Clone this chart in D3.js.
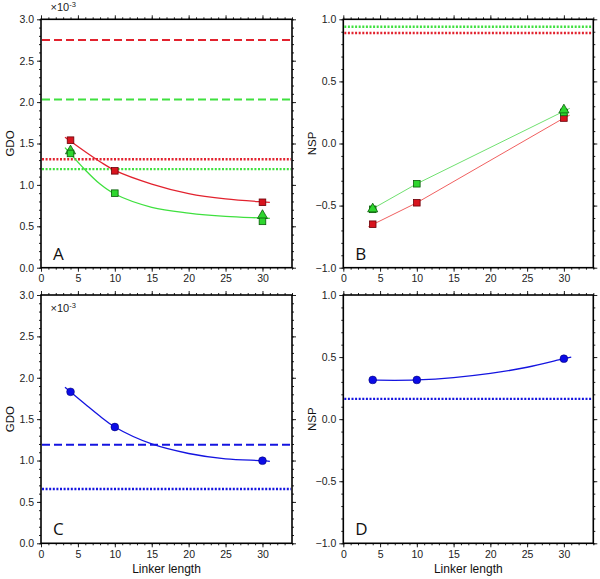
<!DOCTYPE html>
<html><head><meta charset="utf-8">
<script src="https://cdn.jsdelivr.net/npm/d3@7"></script>
<style>body{margin:0;background:#fff}svg{display:block}</style>
</head><body>
<svg id="c" width="600" height="579"></svg>
<script>
// ---------------- data ----------------
const xTicks = [0,5,10,15,20,25,30];
const gdoTicks = [0,0.5,1.0,1.5,2.0,2.5,3.0];
const nspTicks = [-1.0,-0.5,0.0,0.5,1.0];
const linker = [4,10,30];
const triX = [4,30];

// Panel A (GDO x10^-3)
const aRedSq = [1.54,1.17,0.79];
const aGreenSq = [1.38,0.90,0.56];
const aGreenTri = [1.41,0.63];
const aRedDashed = 2.75, aGreenDashed = 2.03, aRedDotted = 1.31, aGreenDotted = 1.19;
const aFitX = [3.25,6,8,10,15,20,25,30,31];
const aRedFit = [1.575,1.40,1.28,1.175,1.01,0.895,0.83,0.795,0.79];
const aGreenFit = [1.45,1.18,1.01,0.89,0.73,0.66,0.62,0.60,0.595];

// Panel B (NSP)
const bRedSq = [-0.65,-0.477,0.205];
const bGreenSq = [-0.53,-0.324,0.25];
const bGreenTri = [-0.527,0.27];
const bGreenDotted = 0.94, bRedDotted = 0.89;
const bFitX = [3.4,10,30,30.8];
const bRedFit = [-0.67,-0.477,0.205,0.228];
const bGreenFit = [-0.545,-0.324,0.26,0.283];

// Panel C (GDO x10^-3)
const cBlue = [1.83,1.405,0.998];
const cBlueDashed = 1.19, cBlueDotted = 0.656;
const cFitX = [3.25,6,8,10,15,20,25,30,31];
const cBlueFit = [1.885,1.68,1.535,1.405,1.20,1.085,1.02,0.998,0.99];

// Panel D (NSP)
const dBlue = [0.316,0.316,0.487];
const dBlueDotted = 0.163;
const dFitX = [3.5,7,10,15,20,25,30,31];
const dBlueFit = [0.316,0.313,0.316,0.335,0.368,0.418,0.487,0.50];

// ---------------- styles ----------------
const RED = "#e2222e", RED_M = "#d8141e", RED_S = "#6a0008";
const GREEN = "#3fe03f", GREEN_M = "#2ed62e", GREEN_S = "#0a5a0a";
const BLUE = "#1414e0", BLUE_M = "#0b0be6";
const FONT = "'Liberation Sans', Arial, sans-serif";

const svg = d3.select("#c");

function panel(opt){
  const g = svg.append("g");
  const x = d3.scaleLinear().domain([0,34]).range([opt.x0, opt.x1]);
  const y = d3.scaleLinear().domain(opt.ydom).range([opt.y1, opt.y0]);
  const minorX = d3.range(0,35,1);
  const minorY = d3.range(Math.round(opt.ydom[0]*10), Math.round(opt.ydom[1]*10)+1).map(v=>v/10);

  const mk = (axis, sc, vals, tr) => g.append("g").attr("transform", tr)
      .call(axis(sc).tickValues(vals).tickSize(2).tickFormat("").tickSizeOuter(0))
      .call(s=>s.select(".domain").remove());
  mk(d3.axisBottom, x, minorX, `translate(0,${opt.y1})`);
  mk(d3.axisTop, x, minorX, `translate(0,${opt.y0})`);
  mk(d3.axisLeft, y, minorY, `translate(${opt.x0},0)`);
  mk(d3.axisRight, y, minorY, `translate(${opt.x1},0)`);

  const gb = g.append("g").attr("transform",`translate(0,${opt.y1})`)
    .call(d3.axisBottom(x).tickValues(xTicks).tickSize(4).tickSizeOuter(0).tickPadding(3).tickFormat(d3.format("d")));
  const gt = g.append("g").attr("transform",`translate(0,${opt.y0})`)
    .call(d3.axisTop(x).tickValues(xTicks).tickSize(4).tickSizeOuter(0).tickFormat(""));
  const gl = g.append("g").attr("transform",`translate(${opt.x0},0)`)
    .call(d3.axisLeft(y).tickValues(opt.yticks).tickSize(4).tickSizeOuter(0).tickPadding(3).tickFormat(d3.format(".1f")));
  const gr = g.append("g").attr("transform",`translate(${opt.x1},0)`)
    .call(d3.axisRight(y).tickValues(opt.yticks).tickSize(4).tickSizeOuter(0).tickFormat(""));
  [gb,gt,gl,gr].forEach(a=>{
    a.selectAll(".domain").remove();
    a.selectAll("text").style("font-family",FONT).style("font-size","10.5px").attr("fill","#222");
  });
  g.selectAll(".tick line").attr("stroke","#222");

  g.append("rect").attr("x",opt.x0).attr("y",opt.y0)
    .attr("width",opt.x1-opt.x0).attr("height",opt.y1-opt.y0)
    .attr("fill","none").attr("stroke","#000").attr("stroke-width",1.6);

  const body = g.append("g");
  const hline = (v,color,dash,w) => body.append("line")
    .attr("x1",x(0)+1).attr("x2",x(34)-1).attr("y1",y(v)).attr("y2",y(v))
    .attr("stroke",color).attr("stroke-width",w).attr("stroke-dasharray",dash);
  const dashed = (v,c)=>hline(v,c,"8,4",2);
  const dotted = (v,c)=>hline(v,c,"2,1.6",2.4);
  const curve = (xs,ys,color,w,cv) => body.append("path")
    .datum(xs.map((d,i)=>[d,ys[i]]))
    .attr("d", d3.line().x(d=>x(d[0])).y(d=>y(d[1])).curve(cv||d3.curveCatmullRom.alpha(0.5)))
    .attr("fill","none").attr("stroke",color).attr("stroke-width",w);
  const squares = (xs,ys,fill,stroke) => body.append("g").selectAll("rect")
    .data(xs.map((d,i)=>[d,ys[i]])).join("rect")
    .attr("x",d=>x(d[0])-3.3).attr("y",d=>y(d[1])-3.3).attr("width",6.6).attr("height",6.6)
    .attr("fill",fill).attr("stroke",stroke).attr("stroke-width",0.8);
  const tris = (xs,ys,fill,stroke) => body.append("g").selectAll("path")
    .data(xs.map((d,i)=>[d,ys[i]])).join("path")
    .attr("d",d3.symbol(d3.symbolTriangle,44))
    .attr("transform",d=>`translate(${x(d[0])},${y(d[1])})`)
    .attr("fill",fill).attr("stroke",stroke).attr("stroke-width",0.8);
  const circles = (xs,ys,fill) => body.append("g").selectAll("circle")
    .data(xs.map((d,i)=>[d,ys[i]])).join("circle")
    .attr("cx",d=>x(d[0])).attr("cy",d=>y(d[1])).attr("r",3.9)
    .attr("fill",fill).attr("stroke","#000060").attr("stroke-width",0.5);

  g.append("text").attr("transform",`translate(${opt.x0-27},${(opt.y0+opt.y1)/2}) rotate(-90)`)
    .attr("text-anchor","middle").style("font-family",FONT).style("font-size","11.5px").attr("fill","#111")
    .text(opt.ylabel);
  g.append("text").attr("x",opt.x0+12).attr("y",opt.y1-8)
    .style("font-family","'Open Sans', 'DejaVu Sans', sans-serif").style("font-size","17px").attr("fill","#111")
    .text(opt.letter);
  if(opt.xlabel){
    g.append("text").attr("x",(opt.x0+opt.x1)/2).attr("y",opt.y1+30)
      .attr("text-anchor","middle").style("font-family",FONT).style("font-size","12px").attr("fill","#111")
      .text("Linker length");
  }
  if(opt.exp){
    const t = g.append("text").attr("x",opt.x0+9.5).attr("y",opt.expY)
      .style("font-family",FONT).style("font-size","11px").attr("fill","#222");
    t.append("tspan").text("×10");
    t.append("tspan").attr("dy",-4.5).style("font-size","7.5px").text("-3");
  }
  return {x,y,dashed,dotted,curve,squares,tris,circles};
}

// Panel A
const A = panel({x0:41,x1:292,y0:19.3,y1:267.7,ydom:[0,3],yticks:gdoTicks,ylabel:"GDO",letter:"A",exp:true,expY:11});
A.dashed(aRedDashed,RED); A.dashed(aGreenDashed,GREEN);
A.dotted(aRedDotted,RED); A.dotted(aGreenDotted,GREEN);
A.curve(aFitX,aRedFit,RED,1.3); A.curve(aFitX,aGreenFit,GREEN,1.3);
A.tris(triX,aGreenTri,GREEN_M,GREEN_S);
A.squares(linker,aRedSq,RED_M,RED_S); A.squares(linker,aGreenSq,GREEN_M,GREEN_S);

// Panel B
const B = panel({x0:343.3,x1:593.3,y0:19.3,y1:267.7,ydom:[-1,1],yticks:nspTicks,ylabel:"NSP",letter:"B"});
B.dotted(bGreenDotted,GREEN); B.dotted(bRedDotted,RED);
B.curve(bFitX,bRedFit,"#f06060",1,d3.curveLinear); B.curve(bFitX,bGreenFit,"#70e070",1,d3.curveLinear);
B.squares(linker,bRedSq,RED_M,RED_S); B.squares(linker,bGreenSq,GREEN_M,GREEN_S);
B.tris(triX,bGreenTri,GREEN_M,GREEN_S);

// Panel C
const C = panel({x0:41,x1:292,y0:295,y1:543.3,ydom:[0,3],yticks:gdoTicks,ylabel:"GDO",letter:"C",xlabel:true,exp:true,expY:312});
C.dashed(cBlueDashed,BLUE); C.dotted(cBlueDotted,BLUE);
C.curve(cFitX,cBlueFit,BLUE,1.3);
C.circles(linker,cBlue,BLUE_M);

// Panel D
const D = panel({x0:343.3,x1:593.3,y0:295,y1:543.3,ydom:[-1,1],yticks:nspTicks,ylabel:"NSP",letter:"D",xlabel:true});
D.dotted(dBlueDotted,BLUE);
D.curve(dFitX,dBlueFit,BLUE,1.3);
D.circles(linker,dBlue,BLUE_M);
</script>
</body></html>
